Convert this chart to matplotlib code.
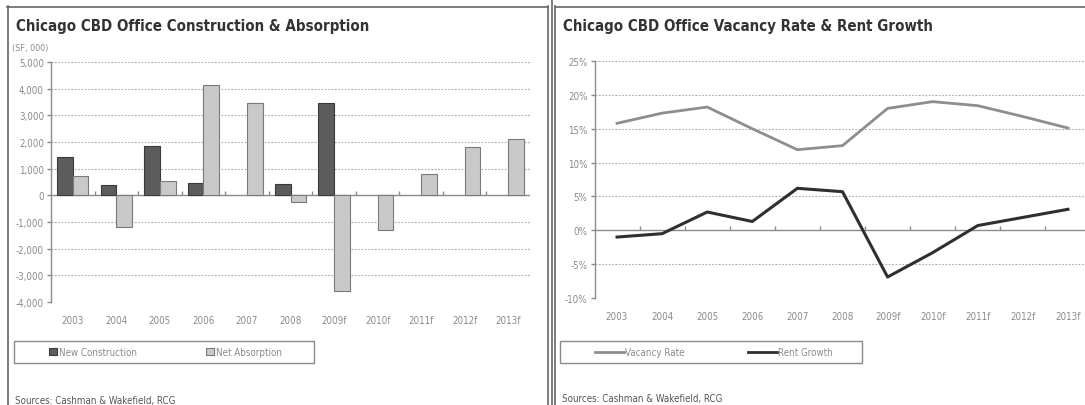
import numpy as np
import matplotlib
matplotlib.use('Agg')
import matplotlib.pyplot as plt
from matplotlib.patches import Rectangle, Patch
from matplotlib.lines import Line2D
from matplotlib.ticker import FuncFormatter

years = ['2003', '2004', '2005', '2006', '2007', '2008', '2009f', '2010f', '2011f', '2012f', '2013f']
new_construction = [1430, 400, 1850, 480, 0, 430, 3450, 0, 0, 0, 0]
net_absorption = [730, -1200, 530, 4150, 3450, -250, -3600, -1300, 800, 1800, 2100]
vacancy_rate = [15.8, 17.3, 18.2, 15.0, 11.9, 12.5, 18.0, 19.0, 18.4, 16.8, 15.1]
rent_growth = [-1.0, -0.5, 2.7, 1.3, 6.2, 5.7, -6.9, -3.3, 0.7, 1.9, 3.1]

FONT = 'DejaVu Sans'
W, H = 1085, 406
TICK_C = '#8a8a8a'
AXIS_C = '#8c8c8c'
GRID_C = '#a8a8a8'


def fx(px):
    return px / W


def fy(py):
    return 1 - py / H


def box(x0, y0, x1, y1):
    return [fx(x0), fy(y1), fx(x1) - fx(x0), fy(y0) - fy(y1)]


def narrow(labels):
    for lab in labels:
        lab.set_family(FONT)
        lab.set_stretch('condensed')


def style_axis(ax, ymin, ymax, step):
    n = len(years)
    x = np.arange(n)
    ax.set_xlim(-0.5, n - 0.5)
    ax.set_ylim(ymin, ymax)
    ax.set_yticks(np.arange(ymin, ymax + step / 2, step))
    for t in ax.get_yticks():
        if t != 0:
            ax.axhline(t, color=GRID_C, lw=0.8, ls=(0, (1.5, 1.5)), zorder=0)
    ax.axhline(0, color=AXIS_C, lw=1.0, zorder=1)
    ax.plot(x[:-1] + 0.5, np.zeros(n - 1), ls='', marker=2, ms=3,
            mew=1.0, color=AXIS_C, zorder=1)
    for s in ['top', 'right', 'bottom']:
        ax.spines[s].set_visible(False)
    ax.spines['left'].set_color(AXIS_C)
    ax.spines['left'].set_linewidth(1.0)
    ax.set_xticks(x)
    ax.set_xticklabels(years)
    ax.tick_params(axis='x', length=0, pad=9, labelsize=7, labelcolor=TICK_C)
    ax.tick_params(axis='y', length=3, width=1.0, color=AXIS_C, pad=2,
                   labelsize=7, labelcolor=TICK_C)
    ax.set_facecolor('none')


fig = plt.figure(figsize=(W / 100, H / 100), dpi=100)

# panel frames
frame_c = '#666666'
fig.add_artist(Line2D([fx(7), fx(548)], [fy(7.5), fy(7.5)], color=frame_c, lw=1.2))
fig.add_artist(Line2D([fx(7.5), fx(7.5)], [fy(7), 0], color=frame_c, lw=1.2))
fig.add_artist(Line2D([fx(548), fx(548)], [fy(7), 0], color=frame_c, lw=1.2))
fig.add_artist(Line2D([fx(551.5), fx(551.5)], [1, 0], color=frame_c, lw=1.2))
fig.add_artist(Line2D([fx(555), fx(555)], [fy(7), 0], color=frame_c, lw=1.2))
fig.add_artist(Line2D([fx(555), 1], [fy(7.5), fy(7.5)], color=frame_c, lw=1.2))

title_kw = dict(family=FONT, stretch='condensed', weight='bold', fontsize=10.8,
                color='#333333', va='center')
small_kw = dict(family=FONT, stretch='condensed', fontsize=7, color='#555555',
                va='center')
leg_prop = {'family': FONT, 'stretch': 'condensed', 'size': 7}

# left: construction & absorption
ax1 = fig.add_axes(box(51, 63, 530, 303))
x = np.arange(len(years))
bw = 0.36
nc = np.array(new_construction)
na = np.array(net_absorption)
ax1.bar(x[nc != 0] - bw / 2, nc[nc != 0], bw, color='#5c5c5c',
        edgecolor='#3a3a3a', lw=0.8, zorder=2)
ax1.bar(x[na != 0] + bw / 2, na[na != 0], bw, color='#c9c9c9',
        edgecolor='#7a7a7a', lw=0.8, zorder=2)
style_axis(ax1, -4000, 5000, 1000)
ax1.yaxis.set_major_formatter(FuncFormatter(lambda v, p: f'{v:,.0f}'))
narrow(ax1.get_xticklabels() + ax1.get_yticklabels())

fig.text(fx(16), fy(27), 'Chicago CBD Office Construction & Absorption', **title_kw)
fig.text(fx(12), fy(49), '(SF, 000)', family=FONT, stretch='condensed',
         fontsize=6.5, color=TICK_C, va='center')

fig.add_artist(Rectangle((fx(14), fy(364)), fx(314) - fx(14), fy(342) - fy(364),
                         fill=False, edgecolor='#8a8a8a', lw=1.0))
for label, fc, ec, px in [('New Construction', '#5c5c5c', '#3a3a3a', 49),
                          ('Net Absorption', '#c9c9c9', '#7a7a7a', 206)]:
    fig.legend(handles=[Patch(facecolor=fc, edgecolor=ec, lw=0.8, label=label)],
               loc='center left', bbox_to_anchor=(fx(px), fy(353)),
               frameon=False, handlelength=0.8, handleheight=0.8,
               handletextpad=0.2, borderpad=0, borderaxespad=0,
               prop=leg_prop, labelcolor=TICK_C)

fig.text(fx(15), fy(401), 'Sources: Cashman & Wakefield, RCG', **small_kw)

# right: vacancy & rent growth
ax2 = fig.add_axes(box(594.5, 62, 1090.5, 299))
ax2.plot(x, vacancy_rate, color='#8e8e8e', lw=2.0, zorder=3)
ax2.plot(x, rent_growth, color='#2f2f2f', lw=2.2, zorder=3)
style_axis(ax2, -10, 25, 5)
ax2.yaxis.set_major_formatter(FuncFormatter(lambda v, p: f'{v:.0f}%'))
narrow(ax2.get_xticklabels() + ax2.get_yticklabels())

fig.text(fx(563), fy(27), 'Chicago CBD Office Vacancy Rate & Rent Growth', **title_kw)

fig.add_artist(Rectangle((fx(560), fy(364)), fx(862) - fx(560), fy(342) - fy(364),
                         fill=False, edgecolor='#8a8a8a', lw=1.0))
for label, c, px in [('Vacancy Rate', '#8e8e8e', 595), ('Rent Growth', '#2f2f2f', 748)]:
    fig.legend(handles=[Line2D([], [], color=c, lw=2.0, label=label)],
               loc='center left', bbox_to_anchor=(fx(px), fy(353)),
               frameon=False, handlelength=3.0, handletextpad=0.05,
               borderpad=0, borderaxespad=0,
               prop=leg_prop, labelcolor=TICK_C)

fig.text(fx(562), fy(399), 'Sources: Cashman & Wakefield, RCG', **small_kw)

fig.savefig('out.png', dpi=100)
